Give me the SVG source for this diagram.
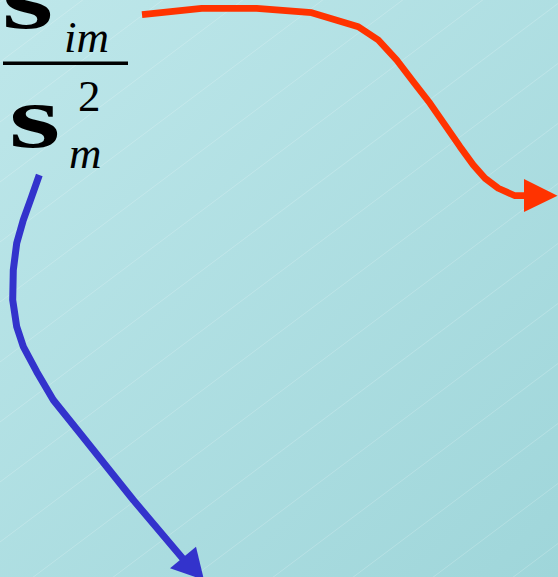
<svg xmlns="http://www.w3.org/2000/svg" width="558" height="577" viewBox="0 0 558 577">
  <defs>
    <linearGradient id="bg" x1="0" y1="0" x2="558" y2="577" gradientUnits="userSpaceOnUse">
      <stop offset="0" stop-color="#BEE7EA"/>
      <stop offset="1" stop-color="#9FD6DA"/>
    </linearGradient>
    <style>
      .sig { font-family: "Liberation Serif", "Times New Roman", serif; font-weight: bold; font-size: 88px; fill: #000; }
      .it { font-family: "Liberation Serif", "Times New Roman", serif; font-style: italic; font-size: 45px; fill: #000; }
      .up { font-family: "Liberation Serif", "Times New Roman", serif; font-size: 45px; fill: #000; }
      .hatch line { stroke: #FFFFFF; stroke-opacity: 0.3; stroke-width: 0.7; }
      .red { fill: none; stroke: #FF3300; stroke-width: 6.7; stroke-linejoin: round; }
      .blue { fill: none; stroke: #3333CC; stroke-width: 7; stroke-linejoin: round; }
    </style>
  </defs>
  <rect x="0" y="0" width="558" height="577" fill="url(#bg)"/>
  <g class="hatch">
    <line x1="0" y1="2" x2="558" y2="-416.5"/>
    <line x1="0" y1="62" x2="558" y2="-356.5"/>
    <line x1="0" y1="122" x2="558" y2="-296.5"/>
    <line x1="0" y1="182" x2="558" y2="-236.5"/>
    <line x1="0" y1="242" x2="558" y2="-176.5"/>
    <line x1="0" y1="302" x2="558" y2="-116.5"/>
    <line x1="0" y1="362" x2="558" y2="-56.5"/>
    <line x1="0" y1="422" x2="558" y2="3.5"/>
    <line x1="0" y1="482" x2="558" y2="63.5"/>
    <line x1="0" y1="542" x2="558" y2="123.5"/>
    <line x1="0" y1="602" x2="558" y2="183.5"/>
    <line x1="0" y1="662" x2="558" y2="243.5"/>
    <line x1="0" y1="722" x2="558" y2="303.5"/>
    <line x1="0" y1="782" x2="558" y2="363.5"/>
    <line x1="0" y1="842" x2="558" y2="423.5"/>
    <line x1="0" y1="902" x2="558" y2="483.5"/>
    <line x1="0" y1="962" x2="558" y2="543.5"/>
    <line x1="0" y1="1022" x2="558" y2="603.5"/>
  </g>
  <g id="fraction">
    <text class="sig" transform="translate(2,28) scale(1.5,1)">s</text>
    <text class="it" x="64" y="52">im</text>
    <rect x="3" y="61.5" width="125" height="3.5" fill="#000"/>
    <text class="sig" transform="translate(9,147) scale(1.5,1)">s</text>
    <text class="up" x="78" y="111">2</text>
    <text class="it" x="69" y="168">m</text>
  </g>
  <g id="connectors">
    <polyline class="red" points="142,14.7 201.7,8.3 256.7,8.3 311.7,12.7 358.3,26.7 378.3,40 396.7,60 413.3,81.7 430,103.3 460,146.7 473.3,165 485,178.3 498.3,188.3 515,195.7 526,195.7"/>
    <polygon fill="#FF3300" points="524,179 557.5,195.7 524,212"/>
    <polyline class="blue" points="39.3,175 31.7,196.7 23.3,220 16.7,243.3 13.3,270 12.7,300 16.7,326.7 23.3,346.7 36.7,371.7 53.3,400 80,433.3 133.3,500 184,560"/>
    <polygon fill="#3333CC" points="196,546.7 204,580 170,568.3"/>
  </g>
</svg>
